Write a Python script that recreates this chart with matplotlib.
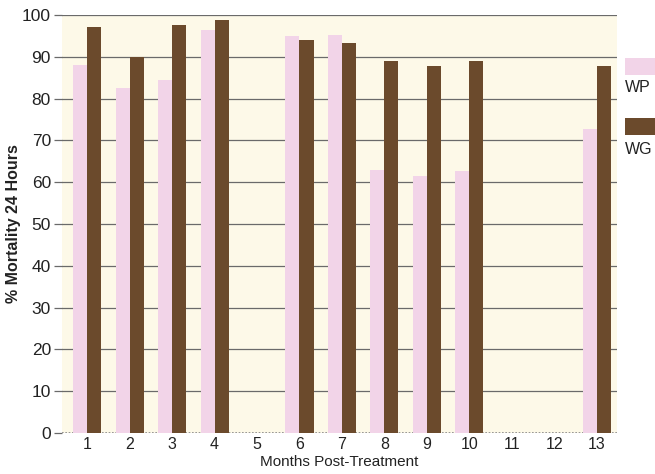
import numpy as np
import matplotlib
matplotlib.use("Agg")
import matplotlib.pyplot as plt
from matplotlib.patches import Rectangle

plt.rcParams['font.family'] = ['Liberation Sans', 'DejaVu Sans']

# Data (None = no bar)
months = [1, 2, 3, 4, 5, 6, 7, 8, 9, 10, 11, 12, 13]
wp = [88, 82.5, 84.5, 96.5, None, 95, 95.2, 62.8, 61.5, 62.6, None, None, 72.6]
wg = [97, 90, 97.5, 98.8, None, 94, 93.4, 89, 87.8, 89, None, None, 87.8]
y_ticks = [0, 10, 20, 30, 40, 50, 60, 70, 80, 90, 100]

PINK = '#f2d4e8'
BROWN = '#6b4a2c'
CREAM = '#fdf9e8'
GRID = '#6a6a6a'

fig = plt.figure(figsize=(6.55, 4.74), dpi=100)
ax = fig.add_axes([0.0947, 0.0865, 0.847, 0.882])
ax.set_facecolor(CREAM)

width = 0.33
x = np.array(months, dtype=float)
wp_vals = [np.nan if v is None else v for v in wp]
wg_vals = [np.nan if v is None else v for v in wg]

# gridlines
for t in y_ticks[1:]:
    ax.axhline(t, color=GRID, lw=0.9, zorder=1)
ax.axhline(0, color='#888888', lw=1.2, ls=(0, (1, 1)), zorder=1)

ax.bar(x - width / 2, wp_vals, width, color=PINK, zorder=2, label='WP')
ax.bar(x + width / 2, wg_vals, width, color=BROWN, zorder=2, label='WG')

ax.set_xlim(0.41, 13.47)
ax.set_ylim(0, 100)
ax.set_xticks(months)
ax.set_xticklabels([str(m) for m in months], fontsize=11.5, color='#222222')
ax.set_yticks(y_ticks)
ax.set_yticklabels([str(t) for t in y_ticks], fontsize=12.5, color='#222222')
ax.tick_params(axis='x', length=0, pad=3)
ax.tick_params(axis='y', length=6, width=0.9, color=GRID, pad=2)

for s in ax.spines.values():
    s.set_visible(False)

ax.set_ylabel('% Mortality 24 Hours', fontsize=11.5, fontweight='bold', color='#222222')
ax.yaxis.set_label_coords(-0.074, 0.5)
ax.set_xlabel('Months Post-Treatment', fontsize=11, color='#222222', labelpad=2)

# legend: swatch above label, at the right edge
W, H = 655.0, 474.0
fig.patches.append(Rectangle((625 / W, 1 - 75 / H), 30 / W, 17 / H, transform=fig.transFigure,
                             facecolor=PINK, edgecolor='none'))
fig.text(625 / W, 1 - 88 / H, 'WP', fontsize=11.5, va='center', ha='left', color='#222222')
fig.patches.append(Rectangle((625 / W, 1 - 135 / H), 30 / W, 17 / H, transform=fig.transFigure,
                             facecolor=BROWN, edgecolor='none'))
fig.text(625 / W, 1 - 149 / H, 'WG', fontsize=11.5, va='center', ha='left', color='#222222')

fig.savefig('out.png', dpi=100, facecolor='white')
